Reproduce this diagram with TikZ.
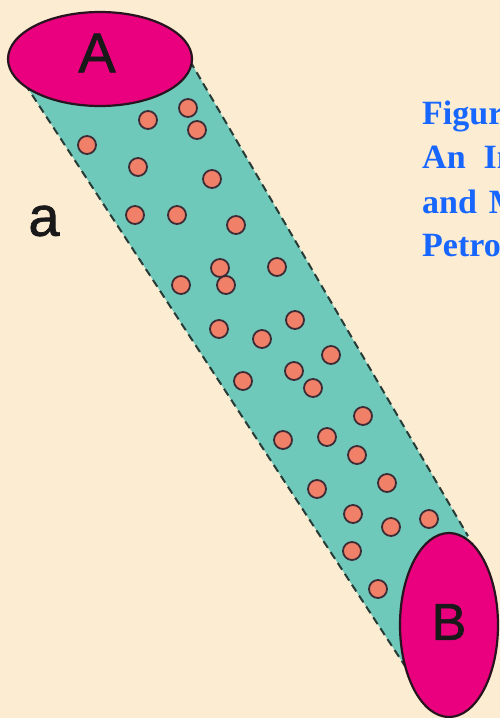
\documentclass[tikz,border=0pt]{standalone}
\usepackage{fontspec}
\setmainfont{Liberation Serif}
\setsansfont{Liberation Sans}
\newfontfamily\letterfont{Liberation Sans}[BoldFont=Liberation Sans, BoldFeatures={FakeBold=1.2}]
\usetikzlibrary{shapes.geometric}
\definecolor{bgpeach}{RGB}{252,236,210}
\definecolor{tealband}{RGB}{110,201,186}
\definecolor{magentafill}{RGB}{234,0,126}
\definecolor{dotfill}{RGB}{240,128,104}
\definecolor{outlinedark}{RGB}{40,20,30}
\definecolor{dashdark}{RGB}{40,60,55}
\definecolor{capblue}{RGB}{22,102,255}
\tikzset{
  endell/.style={ellipse, draw=outlinedark, line width=2.2pt, fill=magentafill, inner sep=0pt},
  bigletter/.style={font=\letterfont\bfseries\fontsize{#1}{#1}\selectfont, text=black!90, inner sep=0pt},
  particle/.style={circle, draw=outlinedark!90, line width=1.8pt, fill=dotfill, minimum size=18pt, inner sep=0pt},
  bandedge/.style={draw=dashdark, line width=2pt, dash pattern=on 8pt off 5pt},
  captionline/.style={font=\bfseries\fontsize{34}{34}\selectfont, text=capblue, anchor=base west, inner sep=0pt}
}
\begin{document}
\begin{tikzpicture}[x=1pt,y=-1pt]
\useasboundingbox (0,0) rectangle (500,718);
\clip (0,0) rectangle (500,718);
\fill[bgpeach] (0,0) rectangle (500,718);
% band corners
\coordinate (tl) at (25,84);
\coordinate (tr) at (190,61);
\coordinate (br) at (468,536);
\coordinate (bl) at (405,666);
\fill[tealband] (tl) -- (tr) -- (br) -- (bl) -- cycle;
\draw[bandedge] (tl) -- (bl);
\draw[bandedge] (tr) -- (br);
% particles
\foreach \i/\px/\py in {1/188/108,2/148/120,3/197/130,4/87/145,5/138/167,6/212/179,7/135/215,8/177/215,9/236/225,
  10/220/268,11/181/285,12/226/285,13/277/267,14/295/320,15/219/329,16/262/339,17/331/355,18/294/371,19/313/388,20/243/381,
  21/363/416,22/283/440,23/327/437,24/357/455,25/387/483,26/317/489,27/353/514,28/391/527,29/429/519,30/352/551,31/378/589}
  \node[particle] (p\i) at (\px,\py) {};
% end ellipses
\node[endell, minimum width=184pt, minimum height=94pt] (ellA) at (100,59) {};
\node[endell, minimum width=98pt, minimum height=184pt] (ellB) at (449,625) {};
\node[bigletter=56] (labA) at (97,53) {A};
\node[bigletter=52] (labB) at (449,622) {B};
\node[bigletter=56] (laba) at (44,221) {a};
% caption (cut by the frame, as in the reference)
\node[captionline] (c1) at (422,124) {Figure};
\node[captionline] (c2) at (422,168) {An\hspace{18pt}In};
\node[captionline] (c3) at (422,213) {and\hspace{12pt}M};
\node[captionline] (c4) at (422,256) {Petro};
\end{tikzpicture}
\end{document}
